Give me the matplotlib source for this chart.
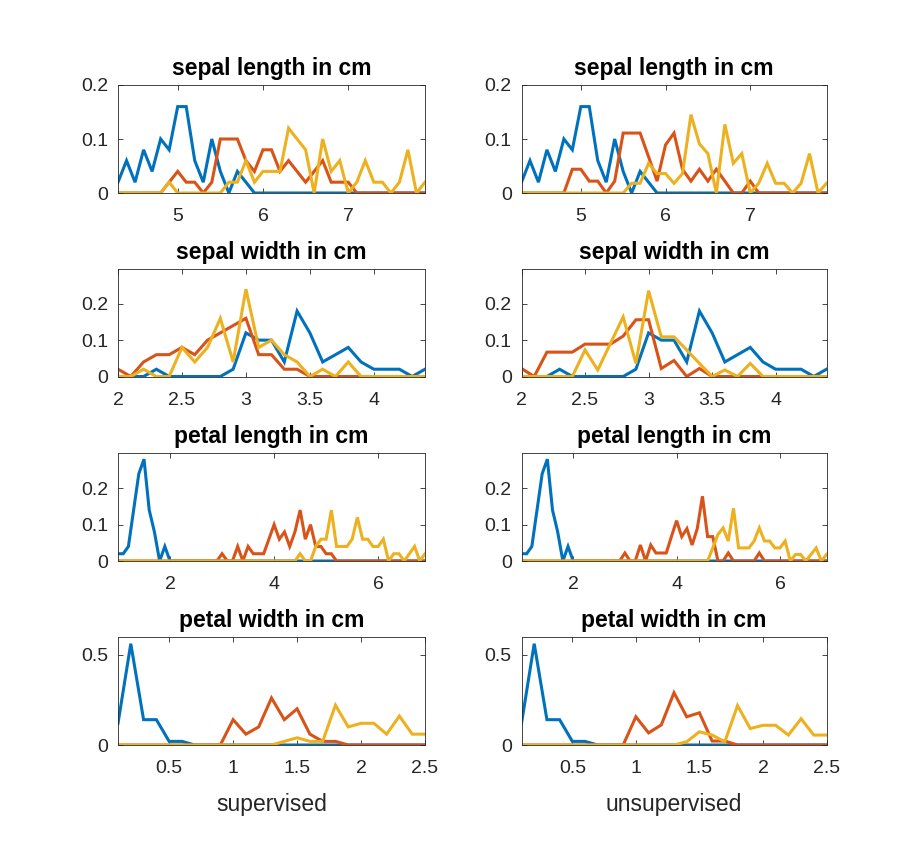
import matplotlib
matplotlib.use("Agg")
import matplotlib.pyplot as plt
from matplotlib.ticker import FuncFormatter

# grids of measured values (cm)
sl_x = [4.3, 4.4, 4.5, 4.6, 4.7, 4.8, 4.9, 5.0, 5.1, 5.2, 5.3, 5.4, 5.5, 5.6, 5.7, 5.8, 5.9, 6.0, 6.1,
        6.2, 6.3, 6.4, 6.5, 6.6, 6.7, 6.8, 6.9, 7.0, 7.1, 7.2, 7.3, 7.4, 7.5, 7.6, 7.7, 7.8, 7.9]
sw_x = [2.0, 2.1, 2.2, 2.3, 2.4, 2.5, 2.6, 2.7, 2.8, 2.9, 3.0, 3.1, 3.2, 3.3, 3.4, 3.5, 3.6, 3.7, 3.8,
        3.9, 4.0, 4.1, 4.2, 4.3, 4.4]
pl_x = [1.0, 1.1, 1.2, 1.3, 1.4, 1.5, 1.6, 1.7, 1.8, 1.9, 2.0, 2.1, 2.2, 2.3, 2.4, 2.5, 2.6, 2.7, 2.8,
        2.9, 3.0, 3.1, 3.2, 3.3, 3.4, 3.5, 3.6, 3.7, 3.8, 3.9, 4.0, 4.1, 4.2, 4.3, 4.4, 4.5, 4.6, 4.7,
        4.8, 4.9, 5.0, 5.1, 5.2, 5.3, 5.4, 5.5, 5.6, 5.7, 5.8, 5.9, 6.0, 6.1, 6.2, 6.3, 6.4, 6.5, 6.6,
        6.7, 6.8, 6.9]
pw_x = [0.1, 0.2, 0.3, 0.4, 0.5, 0.6, 0.7, 0.8, 0.9, 1.0, 1.1, 1.2, 1.3, 1.4, 1.5, 1.6, 1.7, 1.8, 1.9,
        2.0, 2.1, 2.2, 2.3, 2.4, 2.5]

# supervised: class frequencies
sl_sup_1 = [.02, .06, .02, .08, .04, .10, .08, .16, .16, .06, .02, .10, .04, 0, .04, .02, 0, 0, 0,
            0, 0, 0, 0, 0, 0, 0, 0, 0, 0, 0, 0, 0, 0, 0, 0, 0, 0]
sl_sup_2 = [0, 0, 0, 0, 0, 0, .02, .04, .02, .02, 0, .02, .10, .10, .10, .06, .04, .08, .08,
            .04, .06, .04, .02, .04, .06, .02, .02, .02, 0, 0, 0, 0, 0, 0, 0, 0, 0]
sl_sup_3 = [0, 0, 0, 0, 0, 0, .02, 0, 0, 0, 0, 0, 0, .02, .02, .06, .02, .04, .04,
            .04, .12, .10, .08, 0, .10, .04, .06, 0, .02, .06, .02, .02, 0, .02, .08, 0, .02]
sw_sup_1 = [0, 0, 0, .02, 0, 0, 0, 0, 0, .02, .12, .10, .10, .04, .18, .12, .04, .06, .08,
            .04, .02, .02, .02, 0, .02]
sw_sup_2 = [.02, 0, .04, .06, .06, .08, .06, .10, .12, .14, .16, .06, .06, .02, .02, 0, 0, 0, 0,
            0, 0, 0, 0, 0, 0]
sw_sup_3 = [0, 0, .02, 0, 0, .08, .04, .08, .16, .04, .24, .08, .10, .06, .04, 0, .02, 0, .04,
            0, 0, 0, 0, 0, 0]
pl_sup_1 = [.02, .02, .04, .14, .24, .28, .14, .08, 0, .04, 0, 0, 0, 0, 0, 0, 0, 0, 0,
            0, 0, 0, 0, 0, 0, 0, 0, 0, 0, 0, 0, 0, 0, 0, 0, 0, 0, 0,
            0, 0, 0, 0, 0, 0, 0, 0, 0, 0, 0, 0, 0, 0, 0, 0, 0, 0, 0, 0, 0, 0]
pl_sup_2 = [0, 0, 0, 0, 0, 0, 0, 0, 0, 0, 0, 0, 0, 0, 0, 0, 0, 0, 0,
            0, .02, 0, 0, .04, 0, .04, .02, .02, .02, .06, .10, .06, .08, .04, .08, .14, .06, .10,
            .04, .04, .02, .02, 0, 0, 0, 0, 0, 0, 0, 0, 0, 0, 0, 0, 0, 0, 0, 0, 0, 0]
pl_sup_3 = [0, 0, 0, 0, 0, 0, 0, 0, 0, 0, 0, 0, 0, 0, 0, 0, 0, 0, 0,
            0, 0, 0, 0, 0, 0, 0, 0, 0, 0, 0, 0, 0, 0, 0, 0, .02, 0, 0,
            .04, .06, .06, .14, .04, .04, .04, .06, .12, .06, .06, .04, .04, .06, 0, .02, .02, 0, .02,
            .04, 0, .02]
pw_sup_1 = [.12, .56, .14, .14, .02, .02, 0, 0, 0, 0, 0, 0, 0, 0, 0, 0, 0, 0, 0,
            0, 0, 0, 0, 0, 0]
pw_sup_2 = [0, 0, 0, 0, 0, 0, 0, 0, 0, .14, .06, .10, .26, .14, .20, .06, .02, .02, 0,
            0, 0, 0, 0, 0, 0]
pw_sup_3 = [0, 0, 0, 0, 0, 0, 0, 0, 0, 0, 0, 0, 0, .02, .04, .02, .02, .22, .10,
            .12, .12, .06, .16, .06, .06]

# unsupervised: cluster frequencies (cluster 1 equals the first class)
sl_uns_2 = [0, 0, 0, 0, 0, 0, .044, .044, .022, .022, 0, .022, .111, .111, .111, .067, .022, .089, .111,
            .044, .022, .044, .022, .044, .022, 0, 0, .022, 0, 0, 0, 0, 0, 0, 0, 0, 0]
sl_uns_3 = [0, 0, 0, 0, 0, 0, 0, 0, 0, 0, 0, 0, 0, .018, .018, .055, .036, .036, .018,
            .036, .145, .091, .073, 0, .127, .055, .073, 0, .018, .055, .018, .018, 0, .018, .073, 0, .018]
sw_uns_2 = [.022, 0, .067, .067, .067, .089, .089, .089, .111, .156, .156, .022, .044, 0, .022, 0, 0, 0, 0,
            0, 0, 0, 0, 0, 0]
sw_uns_3 = [0, 0, 0, 0, 0, .073, .018, .091, .164, .036, .236, .109, .109, .073, .036, 0, .018, 0, .036,
            0, 0, 0, 0, 0, 0]
pl_uns_2 = [0, 0, 0, 0, 0, 0, 0, 0, 0, 0, 0, 0, 0, 0, 0, 0, 0, 0, 0,
            0, .022, 0, 0, .044, 0, .044, .022, .022, .022, .067, .111, .067, .089, .044, .089, .178, .067, .067,
            0, 0, .022, 0, 0, 0, 0, 0, .022, 0, 0, 0, 0, 0, 0, 0, 0, 0, 0, 0, 0, 0]
pl_uns_3 = [0, 0, 0, 0, 0, 0, 0, 0, 0, 0, 0, 0, 0, 0, 0, 0, 0, 0, 0,
            0, 0, 0, 0, 0, 0, 0, 0, 0, 0, 0, 0, 0, 0, 0, 0, 0, 0, .036,
            .073, .091, .055, .145, .036, .036, .036, .055, .091, .055, .055, .036, .036, .055, 0, .018, .018, 0,
            .018, .036, 0, .018]
pw_uns_2 = [0, 0, 0, 0, 0, 0, 0, 0, 0, .156, .067, .111, .289, .156, .178, .022, .022, 0, 0,
            0, 0, 0, 0, 0, 0]
pw_uns_3 = [0, 0, 0, 0, 0, 0, 0, 0, 0, 0, 0, 0, 0, .018, .073, .055, .018, .218, .091,
            .109, .109, .055, .145, .055, .055]

titles = ["sepal length in cm", "sepal width in cm", "petal length in cm", "petal width in cm"]
col_labels = ["supervised", "unsupervised"]

plt.rcParams['font.family'] = ['Liberation Sans', 'DejaVu Sans']
colors = ['#0072BD', '#D95319', '#EDB120']
axc = '#262626'

rows = [
    (sl_x, [sl_sup_1, sl_sup_2, sl_sup_3], [sl_sup_1, sl_uns_2, sl_uns_3], (4.3, 7.9), [5, 6, 7], 0.2, [0, 0.1, 0.2]),
    (sw_x, [sw_sup_1, sw_sup_2, sw_sup_3], [sw_sup_1, sw_uns_2, sw_uns_3], (2.0, 4.4), [2, 2.5, 3, 3.5, 4], 0.297, [0, 0.1, 0.2]),
    (pl_x, [pl_sup_1, pl_sup_2, pl_sup_3], [pl_sup_1, pl_uns_2, pl_uns_3], (1.0, 6.9), [2, 4, 6], 0.297, [0, 0.1, 0.2]),
    (pw_x, [pw_sup_1, pw_sup_2, pw_sup_3], [pw_sup_1, pw_uns_2, pw_uns_3], (0.1, 2.5), [0.5, 1, 1.5, 2, 2.5], 0.597, [0, 0.5]),
]

W, H = 913, 841
fig = plt.figure(figsize=(W / 100, H / 100), dpi=100)

col_left = [118, 521.5]
col_width = [307, 305]
row_top = [85, 268.5, 453, 637]
row_h = 108

fmt = FuncFormatter(lambda v, p: ('%g' % round(v, 3)))

for r, (xs, sup, uns, xl, xt, ytop, yt) in enumerate(rows):
    for c, series in enumerate([sup, uns]):
        ax = fig.add_axes([col_left[c] / W, 1 - (row_top[r] + row_h) / H, col_width[c] / W, row_h / H])
        for k in range(3):
            ax.plot(xs, series[k], color=colors[k], lw=2.2, solid_joinstyle='miter')
        ax.set_xlim(*xl)
        ax.set_ylim(0, ytop)
        ax.set_xticks(xt)
        ax.set_yticks(yt)
        ax.xaxis.set_major_formatter(fmt)
        ax.yaxis.set_major_formatter(fmt)
        ax.tick_params(direction='in', length=3.5, width=0.6, colors=axc, labelsize=14,
                       top=True, right=True)
        ax.tick_params(axis='x', pad=11)
        ax.tick_params(axis='y', pad=7)
        for s in ax.spines.values():
            s.set_color(axc)
            s.set_linewidth(0.6)
        ax.set_title(titles[r], fontsize=16.5, fontweight='bold', color='black', pad=7)
        if r == 3:
            ax.set_xlabel(col_labels[c], fontsize=16.5, color=axc, labelpad=11)

fig.savefig("out.png", dpi=100)
